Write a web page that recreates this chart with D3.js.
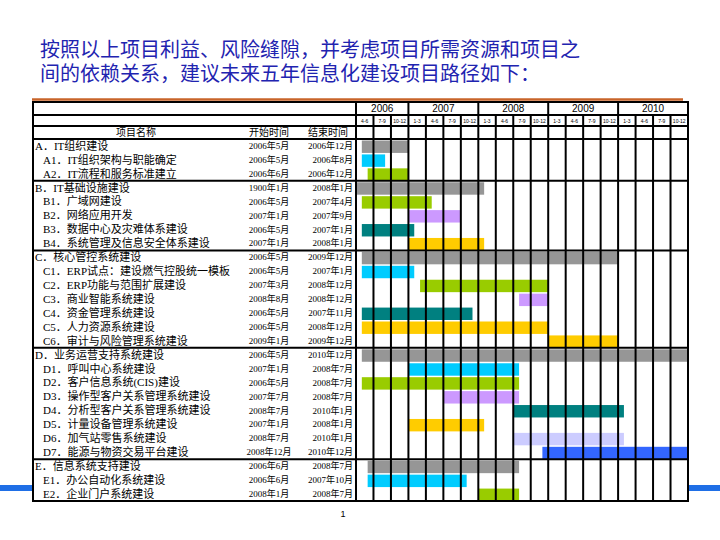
<!DOCTYPE html>
<html><head><meta charset="utf-8">
<script src="https://cdn.jsdelivr.net/npm/d3@7"></script>
<style>html,body{margin:0;padding:0;background:#fff;}svg{display:block;}</style>
</head><body>
<script>
const titleLines = ["按照以上项目利益、风险缝隙，并考虑项目所需资源和项目之", "间的依赖关系，建议未来五年信息化建设项目路径如下："];
const headerLabels = ["项目名称", "开始时间", "结束时间"];
const years = [2006, 2007, 2008, 2009, 2010];
const quarterLabels = ["4-6","7-9","10-12","1-3","4-6","7-9","10-12","1-3","4-6","7-9","10-12","1-3","4-6","7-9","10-12","1-3","4-6","7-9","10-12"];
const taskNames = [
 "A．IT组织建设","A1．IT组织架构与职能确定","A2．IT流程和服务标准建立",
 "B．IT基础设施建设","B1．广域网建设","B2．网络应用开发","B3．数据中心及灾难体系建设","B4．系统管理及信息安全体系建设",
 "C．核心管控系统建设","C1．ERP试点：建设燃气控股统一模板","C2．ERP功能与范围扩展建设","C3．商业智能系统建设","C4．资金管理系统建设","C5．人力资源系统建设","C6．审计与风险管理系统建设",
 "D．业务运营支持系统建设","D1．呼叫中心系统建设","D2．客户信息系统(CIS)建设","D3．操作型客户关系管理系统建设","D4．分析型客户关系管理系统建设","D5．计量设备管理系统建设","D6．加气站零售系统建设","D7．能源与物资交易平台建设",
 "E．信息系统支持建设","E1．办公自动化系统建设","E2．企业门户系统建设"];
const startDates = ["2006年5月","2006年5月","2006年6月","1900年1月","2006年5月","2007年1月","2006年5月","2007年1月",
 "2006年5月","2006年5月","2007年3月","2008年8月","2006年5月","2006年5月","2009年1月",
 "2006年5月","2007年1月","2006年5月","2007年7月","2008年7月","2007年1月","2008年7月","2008年12月",
 "2006年6月","2006年6月","2008年1月"];
const endDates = ["2006年12月","2006年8月","2006年12月","2008年1月","2007年4月","2007年9月","2007年1月","2008年1月",
 "2009年12月","2007年1月","2008年12月","2008年12月","2007年11月","2008年12月","2009年12月",
 "2010年12月","2008年7月","2008年7月","2008年7月","2010年1月","2008年1月","2010年1月","2010年12月",
 "2008年7月","2007年10月","2008年7月"];
const barKinds = ["gray","cyan","green","gray","green","purple","teal","yellow",
 "gray","cyan","green","purple","teal","yellow","yellow",
 "gray","cyan","green","purple","teal","yellow","lavender","blue",
 "gray","cyan","green"];
const palette = {gray:"#969696",cyan:"#00ccff",green:"#99cc00",purple:"#cc99ff",teal:"#008080",yellow:"#ffcc00",lavender:"#ccccff",blue:"#3366ff"};

const W = 720, H = 540;
const L = 33, R = 688, T = 102, SPLIT = 356;
const yYear = 115, yQuarter = 126, yHead = 139, B = 501;
const FONT = "'Liberation Serif','Noto Sans CJK SC',serif";

const svg = d3.select("body").append("svg").attr("width", W).attr("height", H);

// decorative blue strip
svg.append("rect").attr("x",0).attr("y",485).attr("width",W).attr("height",6).attr("fill","#1f6fe6");

// title (one text element, two lines)
const title = svg.append("text")
  .attr("font-family","'Liberation Sans','Noto Sans CJK SC',sans-serif").attr("font-size",20)
  .attr("fill","#1f24b0");
title.selectAll("tspan").data(titleLines).join("tspan")
  .attr("x", 40).attr("y", (d,i)=>57 + i*24).text(d=>d);

// orange rule
svg.append("line").attr("x1",32).attr("x2",683).attr("y1",99.5).attr("y2",99.5)
  .attr("stroke","#c8642a").attr("stroke-width",2.5);

// table background
svg.append("rect").attr("x",L).attr("y",T).attr("width",R-L).attr("height",B-T).attr("fill","#fff");

const parse = s => { const m = s.match(/(\d+)年(\d+)月/); return {y:+m[1], m:+m[2]}; };
const mIdx = s => { const p = parse(s); return (p.y-2006)*12 + (p.m-4); };
const totalMonths = quarterLabels.length*3;
const x = d3.scaleLinear().domain([0,totalMonths]).range([SPLIT,R]);
const y = d3.scaleBand().domain(d3.range(taskNames.length)).range([yHead,B]).padding(0);
const isGroup = n => /^[A-E]．/.test(n);

// bars
svg.append("g").selectAll("rect").data(taskNames.map((n,i)=>i)).join("rect")
  .attr("x", i=>x(Math.max(0,mIdx(startDates[i]))))
  .attr("width", i=>x(Math.min(totalMonths,mIdx(endDates[i])+1)) - x(Math.max(0,mIdx(startDates[i]))))
  .attr("y", i=>y(i)+1.5).attr("height", y.bandwidth()-1.5)
  .attr("fill", i=>palette[barKinds[i]]);

// grid
const g = svg.append("g").attr("stroke","#000").attr("stroke-width",2);
const qLines = d3.range(1, quarterLabels.length).map(q=>q*3);
const yearStarts = []; years.forEach((yr,i)=>{ yearStarts.push(i===0?0:(yr-2006)*12-3); });
g.selectAll("line.q").data(qLines).join("line").attr("class","q")
  .attr("x1",d=>x(d)).attr("x2",d=>x(d))
  .attr("y1",d=>yearStarts.includes(d)?T:yYear).attr("y2",B);
g.append("line").attr("x1",SPLIT).attr("x2",SPLIT).attr("y1",T).attr("y2",B);
const hLines = [yYear, yQuarter, yHead].concat(taskNames.map((n,i)=>i).filter(i=>i>0 && isGroup(taskNames[i])).map(i=>y(i)));
g.selectAll("line.h").data(hLines).join("line").attr("class","h")
  .attr("x1",L).attr("x2",R).attr("y1",d=>d).attr("y2",d=>d);
g.append("rect").attr("x",L).attr("y",T).attr("width",R-L).attr("height",B-T).attr("fill","none");

// year labels
svg.append("g").selectAll("text").data(years).join("text")
  .attr("x",(d,i)=>{ const s=yearStarts[i], e=i<years.length-1?yearStarts[i+1]:totalMonths; return (x(s)+x(e))/2; })
  .attr("y",112).attr("text-anchor","middle")
  .attr("font-family","'Liberation Sans',Arial,sans-serif").attr("font-size",10).text(d=>d);
// quarter labels
svg.append("g").selectAll("text").data(quarterLabels).join("text")
  .attr("x",(d,i)=>x(i*3+1.5)).attr("y",122.5).attr("text-anchor","middle")
  .attr("font-family","'Liberation Sans',Arial,sans-serif").attr("font-size",5).text(d=>d);

// header labels
const headX = [136, 269, 328];
svg.append("g").selectAll("text").data(headerLabels).join("text")
  .attr("x",(d,i)=>headX[i]).attr("y",136).attr("text-anchor","middle")
  .attr("font-family",FONT).attr("font-size",10).text(d=>d);

// task names & dates
const rows = svg.append("g").attr("font-family",FONT).attr("fill","#000");
rows.selectAll("text.n").data(taskNames).join("text").attr("class","n")
  .attr("x",d=>isGroup(d)?35:43).attr("y",(d,i)=>y(i)+10.8)
  .attr("font-size",11).text(d=>d);
rows.selectAll("text.s").data(startDates).join("text").attr("class","s")
  .attr("x",269).attr("y",(d,i)=>y(i)+10).attr("text-anchor","middle")
  .attr("font-size",9).text(d=>d);
rows.selectAll("text.e").data(endDates).join("text").attr("class","e")
  .attr("x",353).attr("y",(d,i)=>y(i)+10).attr("text-anchor","end")
  .attr("font-size",9).text(d=>d);

// page number
svg.append("text").attr("x",343).attr("y",517).attr("text-anchor","middle")
  .attr("font-family","'Liberation Sans',Arial,sans-serif").attr("font-size",9).text("1");
</script>
</body></html>
